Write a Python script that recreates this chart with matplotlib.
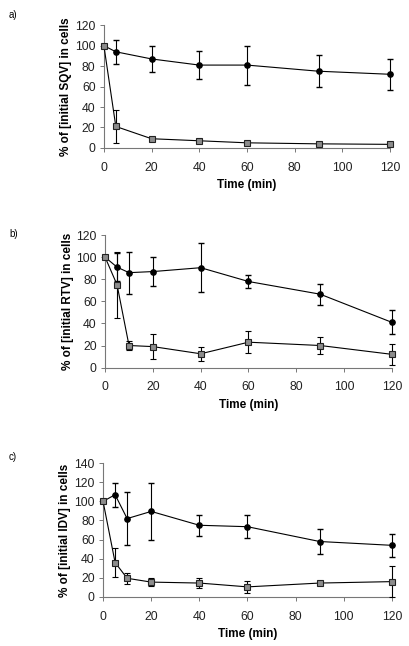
import matplotlib
matplotlib.use("Agg")
import matplotlib.pyplot as plt

plt.rcParams['font.family'] = ['Liberation Sans', 'DejaVu Sans']

# panel a) SQV
t_a = [0, 5, 20, 40, 60, 90, 120]
circ_a = [100, 94, 87, 81, 81, 75, 72]
circ_a_err = [0, 12, 13, 13.5, 19, 15.5, 15]
sq_a = [100, 21, 9, 7, 5, 4, 3.5]
sq_a_err = [0, 16, 1, 1, 1, 0.5, 0.5]

# panel b) RTV
t_b = [0, 5, 10, 20, 40, 60, 90, 120]
circ_b = [100, 91, 86, 87, 90.5, 78, 66.5, 41]
circ_b_err = [0, 13, 19, 13, 22, 5.5, 9.5, 11]
sq_b = [100, 75, 20, 19, 12.5, 23, 20, 12]
sq_b_err = [0, 30, 4.5, 11, 6.5, 10, 8, 9.8]

# panel c) IDV
t_c = [0, 5, 10, 20, 40, 60, 90, 120]
circ_c = [100, 107, 82, 89.5, 75, 73.5, 58, 54]
circ_c_err = [0, 12.5, 28, 29.5, 11, 12, 13.5, 12]
sq_c = [100, 36, 19.5, 15.5, 14.5, 10.5, 14.5, 16]
sq_c_err = [0, 15, 5.5, 4, 5.5, 6, 1, 16.5]

panels = [
    ("a)", "SQV", t_a, circ_a, circ_a_err, sq_a, sq_a_err, 120, [0.254, 0.771, 0.700, 0.190], 0.985),
    ("b)", "RTV", t_b, circ_b, circ_b_err, sq_b, sq_b_err, 120, [0.257, 0.431, 0.701, 0.205], 0.645),
    ("c)", "IDV", t_c, circ_c, circ_c_err, sq_c, sq_c_err, 140, [0.252, 0.076, 0.706, 0.207], 0.300),
]

fig = plt.figure(figsize=(4.09, 6.46), dpi=100)

for tag, drug, t, cv, ce, sv, se, ymax, rect, tag_y in panels:
    ax = fig.add_axes(rect)
    ax.errorbar(t, cv, yerr=ce, color='black', lw=0.8, elinewidth=0.8, capsize=2.5,
                marker='o', markersize=3.8, markerfacecolor='black', clip_on=False, zorder=3)
    ax.errorbar(t, sv, yerr=se, color='black', lw=0.8, elinewidth=0.8, capsize=2.5,
                marker='s', markersize=4.8, markerfacecolor='#8c8c8c', markeredgecolor='#222222',
                markeredgewidth=0.8, clip_on=False, zorder=3)
    ax.set_xlim(0, 120)
    ax.set_ylim(0, ymax)
    ax.set_xticks(range(0, 121, 20))
    ax.set_yticks(range(0, ymax + 1, 20))
    for s in ['top', 'right']:
        ax.spines[s].set_visible(False)
    for s in ['left', 'bottom']:
        ax.spines[s].set_color('#777777')
        ax.spines[s].set_linewidth(0.8)
    ax.tick_params(labelsize=8.8, length=3, width=0.7, color='#777777', labelcolor='#222222')
    ax.tick_params(axis='x', pad=7)
    ax.tick_params(axis='y', pad=3)
    ax.set_xlabel('Time (min)', fontsize=8.5, fontweight='bold', labelpad=4)
    ax.set_ylabel('% of [initial ' + drug + '] in cells', fontsize=8.5, fontweight='bold', labelpad=2)
    fig.text(0.022, tag_y, tag, fontsize=7, va='top')

fig.savefig('out.png', dpi=100)
